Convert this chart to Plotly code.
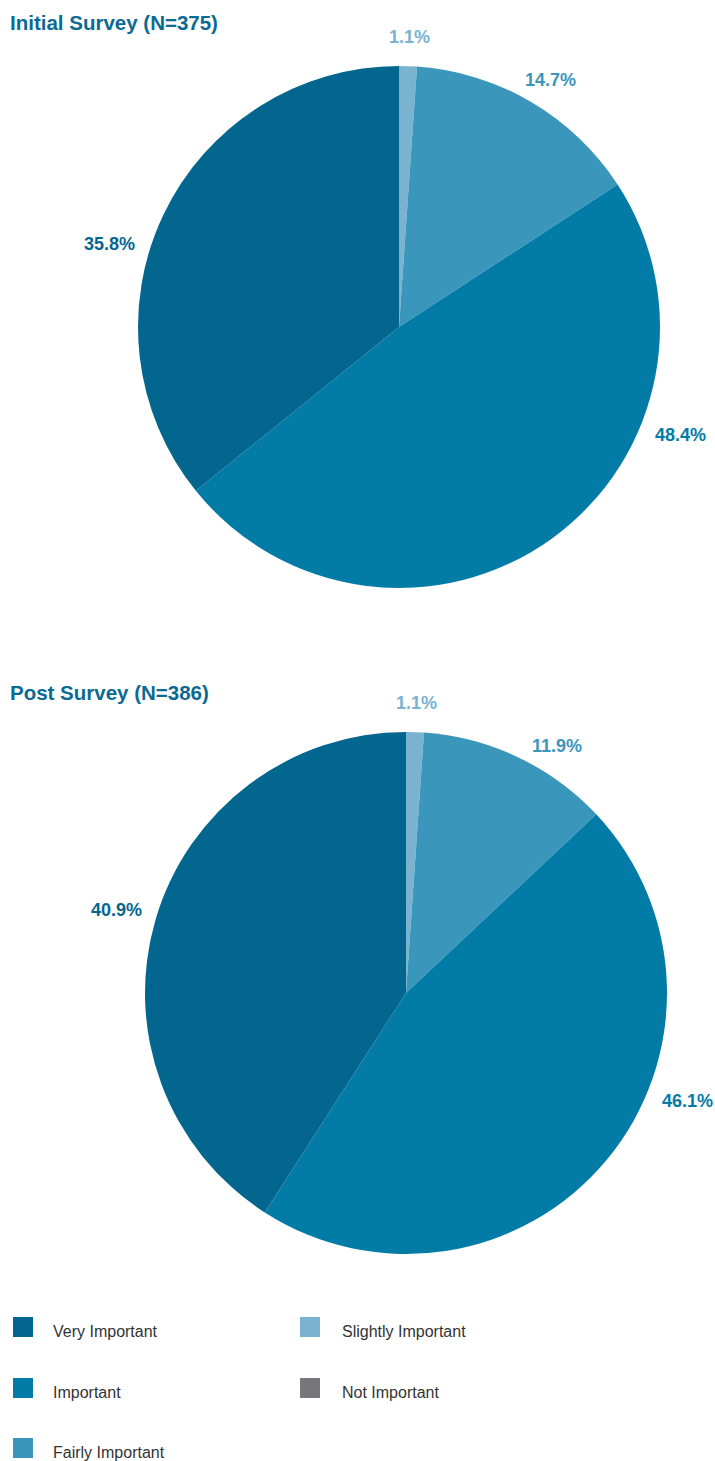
import math
import plotly.graph_objects as go

W, H = 715, 1461

categories = ["Very Important", "Important", "Fairly Important", "Slightly Important", "Not Important"]
colors = ["#03668f", "#027ca6", "#3a96bb", "#7ab3d0", "#77767b"]
initial_values = [35.8, 48.4, 14.7, 1.1, 0.0]
post_values = [40.9, 46.1, 11.9, 1.1, 0.0]
titles = ["Initial Survey (N=375)", "Post Survey (N=386)"]

# pie geometry in pixels (center x, center y, radius), title center y
pies = [
    (initial_values, titles[0], (399, 327, 261), 22),
    (post_values, titles[1], (406, 993, 261), 692),
]

FONT = "Liberation Sans, Arial, Helvetica, sans-serif"
fig = go.Figure()
annotations = []
shapes = []


def px_x(x):
    return x / W


def px_y(y):
    return 1 - y / H


for vals, title, (cx, cy, r), ty in pies:
    # slices run clockwise from 12 o'clock in reverse category order
    fig.add_trace(go.Pie(
        labels=categories[::-1],
        values=vals[::-1],
        sort=False,
        direction="clockwise",
        rotation=0,
        marker=dict(colors=colors[::-1], line=dict(width=0)),
        textinfo="none",
        showlegend=False,
        hoverinfo="label+percent",
        domain=dict(x=[px_x(cx - r), px_x(cx + r)], y=[px_y(cy + r), px_y(cy - r)]),
    ))
    annotations.append(dict(
        text=f"<b>{title}</b>", x=px_x(8), y=px_y(ty), xref="paper", yref="paper",
        xanchor="left", yanchor="middle", showarrow=False,
        font=dict(family=FONT, size=20.5, color="#0b6a93"),
    ))
    # data labels, positioned from slice mid-angles (ccw from top, Very Important first)
    total = sum(vals)
    cum = 0.0
    labels = []
    for v, col in zip(vals, colors):
        mid_ccw = (cum + v / 2) / total * 360.0
        cum += v
        if v <= 0:
            continue
        ang = (360.0 - mid_ccw) % 360.0  # clockwise from top
        big = v / total > 0.3
        if big:
            # keep large-slice labels close to the horizontal
            if 90 < ang < 180:
                ang = min(ang, 111.0)
            elif 270 < ang < 360:
                ang = min(ang, 286.0)
        labels.append([ang, v, col, big])
    # simple collision avoidance: enforce a minimum angular gap (clockwise)
    labels.sort(key=lambda t: t[0])
    for i in range(1, len(labels)):
        if labels[i][0] < labels[i - 1][0] + 29.5 and not labels[i][3]:
            labels[i][0] = labels[i - 1][0] + 29.5
    for ang, v, col, big in labels:
        rad = math.radians(ang)
        d = r + (40 if big else 29)
        lx = cx + d * math.sin(rad)
        ly = cy - d * math.cos(rad)
        annotations.append(dict(
            text=f"<b>{v:.1f}%</b>", x=px_x(lx), y=px_y(ly), xref="paper", yref="paper",
            xanchor="center", yanchor="middle", showarrow=False,
            font=dict(family=FONT, size=18, color=col),
        ))

# custom legend (column-major, two columns)
col_x = [13, 300]
row_y = [1327, 1388, 1448]
for i, (cat, col) in enumerate(zip(categories, colors)):
    c, rrow = divmod(i, 3)
    x0 = col_x[c]
    yc = row_y[rrow]
    shapes.append(dict(
        type="rect", xref="paper", yref="paper",
        x0=px_x(x0), x1=px_x(x0 + 20), y0=px_y(yc + 10), y1=px_y(yc - 10),
        fillcolor=col, line=dict(width=0),
    ))
    annotations.append(dict(
        text=cat, x=px_x(x0 + 38 + (2 if c else 0)), y=px_y(yc + 4), xref="paper", yref="paper",
        xanchor="left", yanchor="middle", showarrow=False,
        font=dict(family=FONT, size=16, color="#333333"),
    ))

fig.update_layout(
    width=W, height=H,
    margin=dict(l=0, r=0, t=0, b=0),
    paper_bgcolor="white", plot_bgcolor="white",
    annotations=annotations, shapes=shapes,
    showlegend=False,
)

fig.write_html(
    "out.html",
    config={"displayModeBar": False},
    post_script="document.body.style.margin='0';document.body.style.overflow='hidden';",
)
